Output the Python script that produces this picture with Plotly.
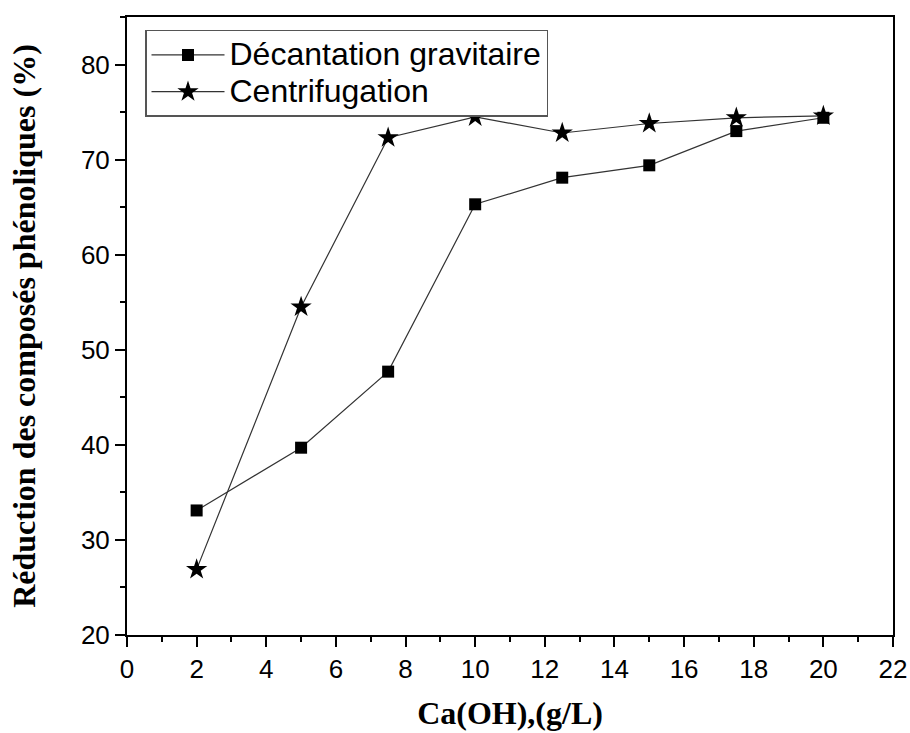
import plotly.graph_objects as go

# Ca(OH)2 dose (g/L)
doses = [2, 5, 7.5, 10, 12.5, 15, 17.5, 20]
# Phenolic compound reduction (%)
decantation = [33.1, 39.7, 47.7, 65.3, 68.1, 69.4, 73.0, 74.4]
centrifugation = [26.9, 54.5, 72.3, 74.5, 72.8, 73.8, 74.4, 74.6]

series_names = ["Décantation gravitaire", "Centrifugation"]

x_ticks = list(range(0, 23, 2))
y_ticks = list(range(20, 81, 10))

SANS = "Arial, Liberation Sans, sans-serif"
SERIF = "Times New Roman, Liberation Serif, serif"


def legend_label(text):
    # larger glyphs than the legend's base size, which keeps row spacing compact
    return f'<span style="font-size:32px">{text}</span>'


fig = go.Figure()
fig.add_trace(go.Scatter(
    x=doses, y=decantation, name=legend_label(series_names[0]), mode="lines+markers",
    line=dict(color="#333333", width=1.2),
    marker=dict(symbol="square", size=12, color="black"),
))
fig.add_trace(go.Scatter(
    x=doses, y=centrifugation, name=legend_label(series_names[1]), mode="lines+markers",
    line=dict(color="#333333", width=1.2),
    marker=dict(symbol="star", size=16, color="black"),
))

axis_common = dict(
    showline=True, linecolor="black", linewidth=2, mirror=True,
    ticks="outside", ticklen=10, tickwidth=2, tickcolor="black",
    showgrid=False, zeroline=False, automargin=False,
    tickfont=dict(family=SANS, size=26, color="black"),
)

fig.update_xaxes(
    range=[0, 22], tickvals=x_ticks,
    minor=dict(ticks="outside", ticklen=5, tickwidth=2, tickcolor="black", dtick=1, tick0=0),
    title=dict(text="<b>Ca(OH),(g/L)</b>", font=dict(family=SERIF, size=32, color="black"), standoff=18),
    **axis_common,
)
fig.update_yaxes(
    range=[20, 85], tickvals=y_ticks,
    minor=dict(ticks="outside", ticklen=5, tickwidth=2, tickcolor="black", dtick=5, tick0=20),
    title=dict(text="<b>Réduction des composés phénoliques (%)</b>", font=dict(family=SERIF, size=32, color="black"), standoff=36),
    **axis_common,
)

fig.update_layout(
    width=910, height=733,
    margin=dict(l=127, r=17, t=17, b=98),
    paper_bgcolor="white", plot_bgcolor="white",
    legend=dict(
        x=0.0235, y=0.979, xanchor="left", yanchor="top",
        bgcolor="white", bordercolor="#555555", borderwidth=1.5,
        font=dict(family=SANS, size=26, color="black"),
        itemwidth=73, tracegroupgap=0,
    ),
)

fig.write_html("out.html")
